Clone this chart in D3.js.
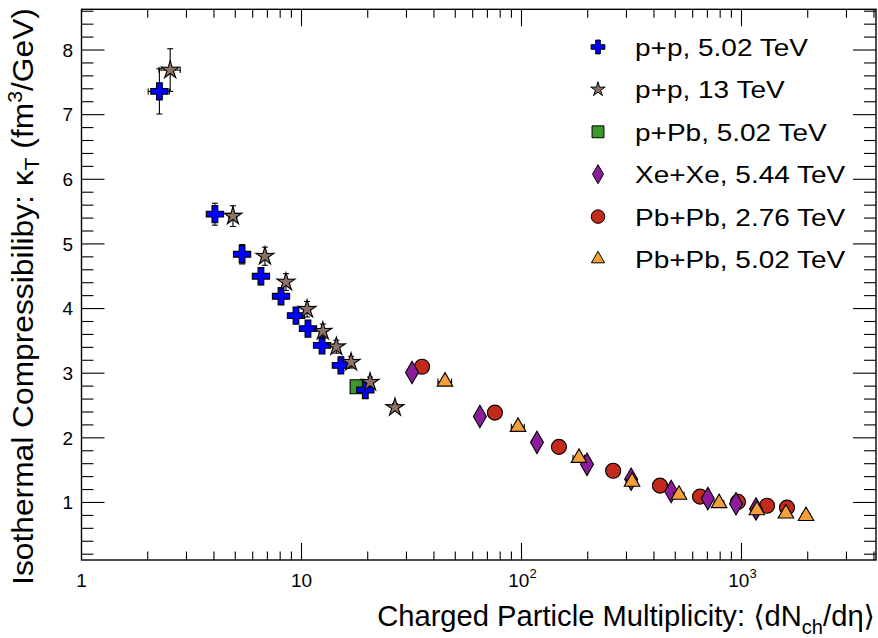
<!DOCTYPE html>
<html>
<head>
<meta charset="utf-8">
<script src="https://cdn.jsdelivr.net/npm/d3@7"></script>
<style>
body {margin:0; background:#fff;}
text {font-family:"Liberation Sans", Arial, Helvetica, "DejaVu Sans", sans-serif; fill:#000;}
</style>
</head>
<body>
<svg id="chart" width="878" height="638"></svg>
<script>
// ---- data ----
let ppX502    = [2.26, 4.04, 5.37, 6.54, 8.07, 9.44, 10.7, 12.4, 15.1, 19.5];
let ppY502    = [7.36, 5.46, 4.84, 4.50, 4.19, 3.89, 3.69, 3.43, 3.12, 2.74];
let ppYErr502 = [0.35, 0.17, 0.15, 0.13, 0.12, 0.11, 0.10, 0.09, 0.08, 0.07];
let ppXErr502 = [0.25, 0.15, 0.18, 0.2, 0.25, 0.3, 0.3, 0.35, 0.4, 0.5];

let ppX13    = [2.53, 4.88, 6.82, 8.5, 10.6, 12.5, 14.4, 16.8, 20.5, 26.6];
let ppY13    = [7.69, 5.43, 4.81, 4.41, 3.99, 3.65, 3.41, 3.17, 2.86, 2.47];
let ppYErr13 = [0.33, 0.16, 0.14, 0.13, 0.12, 0.11, 0.10, 0.09, 0.08, 0.06];
let ppXErr13 = [0.28, 0.2, 0.25, 0.3, 0.35, 0.4, 0.4, 0.5, 0.6, 0.7];

let pPbX    = [17.9];
let pPbY    = [2.79];
let pPbYErr = [0.06];
let pPbXErr = [0.5];

let xeX    = [31.8, 64.7, 117.6, 198.5, 315, 479, 703, 944, 1164];
let xeY    = [3.01, 2.33, 1.93, 1.59, 1.36, 1.17, 1.06, 0.98, 0.90];
let xeYErr = [0.05, 0.04, 0.03, 0.03, 0.02, 0.02, 0.02, 0.02, 0.02];
let xeXErr = [1.5, 2.5, 3.5, 5, 7, 10, 14, 18, 22];

let pb276X    = [35.3, 75.7, 148, 261, 426, 648, 964, 1306, 1610];
let pb276Y    = [3.10, 2.39, 1.86, 1.49, 1.26, 1.09, 1.01, 0.95, 0.92];
let pb276YErr = [0.05, 0.04, 0.03, 0.03, 0.02, 0.02, 0.02, 0.02, 0.02];
let pb276XErr = [1.5, 2.5, 3.5, 5, 7, 10, 14, 18, 22];

let pb502X    = [44.9, 96.4, 182.5, 318, 520, 791, 1175, 1592, 1965];
let pb502Y    = [2.87, 2.17, 1.69, 1.32, 1.12, 0.99, 0.88, 0.83, 0.79];
let pb502YErr = [0.05, 0.04, 0.03, 0.03, 0.02, 0.02, 0.02, 0.02, 0.02];
let pb502XErr = [3.2, 6.5, 11, 18, 28, 40, 55, 70, 85];

let legendLabels = ['p+p, 5.02 TeV', 'p+p, 13 TeV', 'p+Pb, 5.02 TeV', 'Xe+Xe, 5.44 TeV', 'Pb+Pb, 2.76 TeV', 'Pb+Pb, 5.02 TeV'];
let xTickVals   = [1, 10, 100, 1000];
let xTickLabels = ['1', '10', '10^2', '10^3'];
let yTickVals   = [1, 2, 3, 4, 5, 6, 7, 8];

// ---- layout ----
let sizes = {left:81.5, right:876, top:9.3, bottom:560};
let svg = d3.select('#chart');

let x = d3.scaleLog().domain([1, 4087]).range([sizes.left, sizes.right]);
let y = d3.scaleLinear().domain([0.11, 8.63]).range([sizes.bottom, sizes.top]);

let series = [
    {label:legendLabels[0], xs:ppX502, ys:ppY502, ex:ppXErr502, ey:ppYErr502, sym:'cross',    fill:'#0000ff', lk:0.8},
    {label:legendLabels[1], xs:ppX13,  ys:ppY13,  ex:ppXErr13,  ey:ppYErr13,  sym:'star',     fill:'#8c7264', lk:0.8},
    {label:legendLabels[2], xs:pPbX,   ys:pPbY,   ex:pPbXErr,   ey:pPbYErr,   sym:'square',   fill:'#3a982c', lk:0.85},
    {label:legendLabels[3], xs:xeX,    ys:xeY,    ex:xeXErr,    ey:xeYErr,    sym:'diamond',  fill:'#8c1c9c', lk:0.85},
    {label:legendLabels[4], xs:pb276X, ys:pb276Y, ex:pb276XErr, ey:pb276YErr, sym:'circle',   fill:'#c42a1c', lk:0.9},
    {label:legendLabels[5], xs:pb502X, ys:pb502Y, ex:pb502XErr, ey:pb502YErr, sym:'triangle', fill:'#f4a03a', lk:0.85}
];
let drawOrder = [2, 0, 1, 4, 3, 5];

// thin five-pointed star like the ROOT full star
let thinStar = {
    draw: function(ctx, size) {
        let R = Math.sqrt(size), r = R * 0.36;
        for (let i = 0; i < 10; i++) {
            let a = -Math.PI / 2 + i * Math.PI / 5;
            let rad = (i % 2 === 0) ? R : r;
            if (i === 0) ctx.moveTo(rad * Math.cos(a), rad * Math.sin(a));
            else ctx.lineTo(rad * Math.cos(a), rad * Math.sin(a));
        }
        ctx.closePath();
    }
};

function symbolPath(name, k) {
    let types = {cross:[d3.symbolCross, 165], star:[thinStar, 90], square:[d3.symbolSquare, 196],
                 diamond:[d3.symbolDiamond, 145], circle:[d3.symbolCircle, 177], triangle:[d3.symbolTriangle, 105]};
    let t = types[name];
    return d3.symbol().type(t[0]).size(t[1] * k * k)();
}

// ---- ticks ----
let axes = svg.append('g').attr('stroke', '#000').attr('stroke-width', 1.1);

let xMinor = [];
for (let dec = 1; dec <= 1000; dec *= 10) {
    for (let m = 2; m <= 9; m++) {
        if (dec * m <= 4087) xMinor.push(dec * m);
    }
}
let yMinor = d3.range(1, 44).map(i => +(i * 0.2).toFixed(1)).filter(v => v % 1 !== 0);

function xTicks(vals, len) {
    vals.forEach(v => {
        axes.append('line').attr('x1', x(v)).attr('x2', x(v)).attr('y1', sizes.bottom).attr('y2', sizes.bottom - len);
        axes.append('line').attr('x1', x(v)).attr('x2', x(v)).attr('y1', sizes.top).attr('y2', sizes.top + len);
    });
}
function yTicks(vals, len) {
    vals.forEach(v => {
        axes.append('line').attr('y1', y(v)).attr('y2', y(v)).attr('x1', sizes.left).attr('x2', sizes.left + len);
        axes.append('line').attr('y1', y(v)).attr('y2', y(v)).attr('x1', sizes.right).attr('x2', sizes.right - len);
    });
}
xTicks(xTickVals.slice(1), 17);
xTicks(xMinor, 8.5);
yTicks(yTickVals, 23);
yTicks(yMinor, 12);

svg.append('rect')
    .attr('x', sizes.left).attr('y', sizes.top)
    .attr('width', sizes.right - sizes.left).attr('height', sizes.bottom - sizes.top)
    .attr('fill', 'none').attr('stroke', '#000').attr('stroke-width', 1.4);

// tick labels
xTickVals.forEach((v, i) => {
    let parts = xTickLabels[i].split('^');
    let t = svg.append('text').attr('y', 587).attr('font-size', 19).attr('text-anchor', 'middle');
    t.append('tspan').text(parts[0]);
    if (parts[1]) t.append('tspan').attr('font-size', 13).attr('dy', -9).text(parts[1]);
    t.attr('x', x(v) + (parts[1] ? 1 : 0));
});
yTickVals.forEach(v => {
    svg.append('text').attr('x', 73).attr('y', y(v)).attr('dy', '0.36em')
        .attr('font-size', 19).attr('text-anchor', 'end').text(v);
});

// axis titles
let yTitle = svg.append('text').attr('font-size', 30).attr('text-anchor', 'middle');
yTitle.append('tspan').text('Isothermal Compressibiliby: κ');
yTitle.append('tspan').attr('font-size', 20).attr('dy', 6).text('T');
yTitle.append('tspan').attr('dy', -6).text(' (fm');
yTitle.append('tspan').attr('font-size', 20).attr('dy', -11).text('3');
yTitle.append('tspan').attr('dy', 11).text('/GeV)');
let yLen = yTitle.node().getComputedTextLength();
yTitle.attr('transform', `translate(32.5,${(8 + 585) / 2}) rotate(-90) scale(${577 / yLen},1)`);

let xTitle = svg.append('text').attr('font-size', 29).attr('text-anchor', 'end');
xTitle.append('tspan').text('Charged Particle Multiplicity: ⟨dN');
xTitle.append('tspan').attr('font-size', 20).attr('dy', 8).text('ch');
xTitle.append('tspan').attr('dy', -8).text('/dη⟩');
let xLen = xTitle.node().getComputedTextLength();
xTitle.attr('transform', `translate(875,626) scale(${498 / xLen},1)`);

// ---- data points ----
let plot = svg.append('g');
drawOrder.forEach(si => {
    let s = series[si];
    let g = plot.append('g');
    let pts = s.xs.map((xv, i) => ({x:xv, y:s.ys[i], ex:s.ex[i], ey:s.ey[i]}));
    let eb = g.append('g').attr('stroke', '#000').attr('stroke-width', 1.1);
    pts.forEach(d => {
        let px = x(d.x), py = y(d.y);
        let x0 = x(d.x - d.ex), x1 = x(d.x + d.ex), y0 = y(d.y - d.ey), y1 = y(d.y + d.ey);
        eb.append('line').attr('x1', x0).attr('x2', x1).attr('y1', py).attr('y2', py);
        eb.append('line').attr('x1', x0).attr('x2', x0).attr('y1', py - 3).attr('y2', py + 3);
        eb.append('line').attr('x1', x1).attr('x2', x1).attr('y1', py - 3).attr('y2', py + 3);
        eb.append('line').attr('x1', px).attr('x2', px).attr('y1', y0).attr('y2', y1);
        eb.append('line').attr('x1', px - 3).attr('x2', px + 3).attr('y1', y0).attr('y2', y0);
        eb.append('line').attr('x1', px - 3).attr('x2', px + 3).attr('y1', y1).attr('y2', y1);
    });
    g.selectAll('path.mk')
        .data(pts)
        .enter().append('path')
        .attr('class', 'mk')
        .attr('d', symbolPath(s.sym, 1))
        .attr('transform', d => `translate(${x(d.x)},${y(d.y)})`)
        .attr('fill', s.fill)
        .attr('stroke', '#000')
        .attr('stroke-width', 1.1);
});

// ---- legend ----
let leg = svg.append('g');
let legSx = null;
series.forEach((s, i) => {
    let base = 56 + i * 42.4;
    leg.append('path')
        .attr('d', symbolPath(s.sym, s.lk))
        .attr('transform', `translate(598,${base - 9})`)
        .attr('fill', s.fill).attr('stroke', '#000').attr('stroke-width', 1);
    let t = leg.append('text').attr('font-size', 24.5).text(s.label);
    if (legSx === null) legSx = 173 / t.node().getComputedTextLength();
    t.attr('transform', `translate(635,${base}) scale(${legSx},1)`);
});
</script>
</body>
</html>
